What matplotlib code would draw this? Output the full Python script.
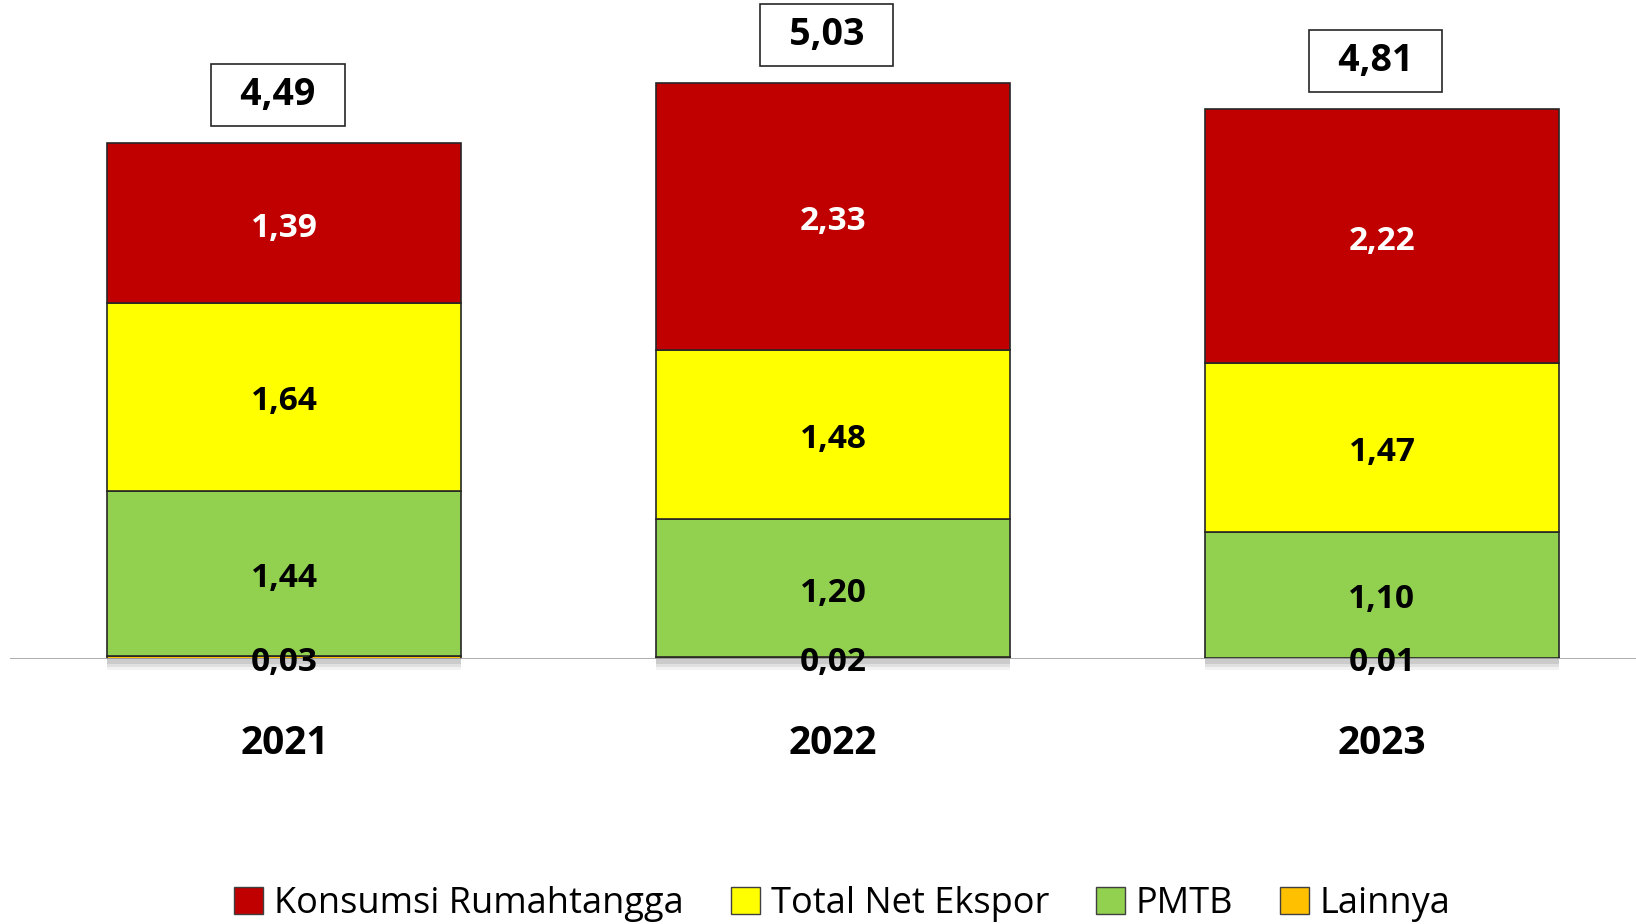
import matplotlib.pyplot as plt
import numpy as np
from matplotlib.patches import Patch

plt.rcParams['font.family'] = ['Open Sans', 'DejaVu Sans']

tahun = ['2021', '2022', '2023']
lainnya = [0.03, 0.02, 0.01]
pmtb = [1.44, 1.20, 1.10]
net_ekspor = [1.64, 1.48, 1.47]
konsumsi = [1.39, 2.33, 2.22]
total = [4.49, 5.03, 4.81]

seri = [
    ('Lainnya', lainnya, '#FFC000', 'black'),
    ('PMTB', pmtb, '#92D050', 'black'),
    ('Total Net Ekspor', net_ekspor, '#FFFF00', 'black'),
    ('Konsumsi Rumahtangga', konsumsi, '#C00000', 'white'),
]

def fmt(v):
    return f'{v:.2f}'.replace('.', ',')

fig = plt.figure(figsize=(16.36, 9.24), dpi=100)
ax = fig.add_axes([10 / 1636, 265 / 924, 1 - 10 / 1636, 659 / 924])

x = np.arange(len(tahun))
lebar = 0.645

# bayangan tipis di bawah batang
for d, a in [(0.10, 0.05), (0.07, 0.07), (0.04, 0.09)]:
    ax.bar(x, -d, width=lebar, color='black', alpha=a, lw=0,
           zorder=1, clip_on=False)

bawah = np.zeros(len(tahun))
for nama, nilai, warna, warna_teks in seri:
    nilai = np.array(nilai)
    ax.bar(x, nilai, width=lebar, bottom=bawah, color=warna,
           edgecolor='#262626', linewidth=1.2, zorder=3)
    for xi, b, v in zip(x, bawah, nilai):
        yv = b + v / 2 - 0.045 if v > 0.1 else -0.03
        ax.text(xi, yv, fmt(v), ha='center', va='center',
                fontsize=24, fontweight='bold', color=warna_teks, zorder=5)
    bawah = bawah + nilai

for xi, top, t in zip(x, bawah, total):
    ax.annotate('\u00a0\u2009' + fmt(t) + '\u2009\u00a0', (xi - 0.012, top),
                xytext=(0, 34.5), textcoords='offset points',
                ha='center', va='center', fontsize=27, fontweight='bold',
                zorder=6,
                bbox=dict(boxstyle='square,pad=0.32', fc='white',
                          ec='#262626', lw=1.2))

ax.axhline(0, color='#A6A6A6', lw=2, zorder=4)
ax.set_xlim(-0.5, 2.463)
ax.set_ylim(0, 5.75)
for s in ax.spines.values():
    s.set_visible(False)
ax.set_xticks([])
ax.set_yticks([])

for xi, t in zip(x, tahun):
    ax.text(xi, -0.74, t, ha='center', va='center', fontsize=28,
            fontweight='bold')

handles = [Patch(facecolor=c, edgecolor='#404040', label=n)
           for n, _, c, _ in seri[::-1]]
fig.legend(handles=handles, loc='center', bbox_to_anchor=(0.515, 20 / 924),
           ncol=4, frameon=False, fontsize=26, handlelength=0.8,
           handleheight=0.8, handletextpad=0.3, columnspacing=1.3)

fig.savefig('out.png', dpi=100)
